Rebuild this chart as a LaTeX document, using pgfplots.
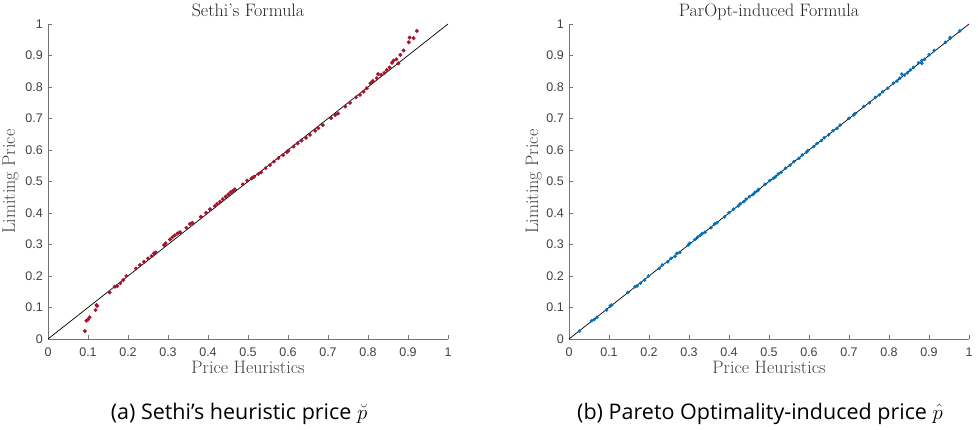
\documentclass[border=0pt]{standalone}
\usepackage{pgfplots}
\pgfplotsset{compat=1.18}
\usepackage{pgfplotstable}
\usepackage{fontspec}
\newfontfamily\arial{Liberation Sans}
\newfontfamily\capfont{Open Sans}
\definecolor{mred}{rgb}{0.635,0.078,0.184}
\definecolor{mblue}{rgb}{0,0.447,0.741}
\definecolor{axgray}{gray}{0.45}
\definecolor{txtgray}{gray}{0.25}
\pgfplotstableread{
s p y
0.092 0.026 0.025
0.096 0.057 0.058
0.100 0.063 0.062
0.104 0.070 0.069
0.119 0.094 0.092
0.123 0.103 0.105
0.121 0.107 0.108
0.154 0.147 0.148
0.167 0.165 0.166
0.173 0.170 0.168
0.181 0.179 0.177
0.188 0.189 0.187
0.196 0.199 0.200
0.220 0.226 0.224
0.230 0.233 0.235
0.240 0.247 0.245
0.250 0.255 0.256
0.259 0.265 0.263
0.265 0.270 0.272
0.270 0.277 0.275
0.290 0.298 0.298
0.294 0.302 0.304
0.305 0.315 0.316
0.311 0.321 0.323
0.317 0.328 0.329
0.324 0.333 0.335
0.330 0.340 0.339
0.346 0.355 0.353
0.355 0.364 0.365
0.361 0.370 0.369
0.382 0.389 0.388
0.395 0.400 0.401
0.405 0.411 0.412
0.417 0.423 0.422
0.423 0.428 0.429
0.430 0.437 0.436
0.437 0.443 0.444
0.444 0.451 0.452
0.451 0.460 0.459
0.457 0.465 0.466
0.463 0.472 0.471
0.467 0.474 0.475
0.487 0.490 0.491
0.498 0.502 0.503
0.509 0.511 0.510
0.515 0.516 0.515
0.526 0.523 0.524
0.533 0.530 0.529
0.544 0.541 0.542
0.555 0.553 0.552
0.565 0.562 0.563
0.576 0.575 0.574
0.588 0.583 0.584
0.597 0.594 0.593
0.601 0.597 0.598
0.614 0.612 0.611
0.624 0.620 0.621
0.634 0.631 0.630
0.645 0.638 0.639
0.655 0.649 0.648
0.668 0.660 0.661
0.676 0.670 0.669
0.687 0.678 0.679
0.708 0.700 0.701
0.718 0.712 0.711
0.725 0.715 0.716
0.743 0.737 0.738
0.755 0.751 0.750
0.770 0.766 0.767
0.780 0.776 0.775
0.789 0.784 0.785
0.797 0.797 0.796
0.806 0.811 0.812
0.812 0.820 0.819
0.822 0.827 0.828
0.825 0.832 0.841
0.833 0.839 0.838
0.841 0.846 0.845
0.847 0.853 0.854
0.854 0.861 0.862
0.860 0.874 0.877
0.864 0.882 0.884
0.871 0.889 0.888
0.876 0.882 0.875
0.881 0.900 0.902
0.889 0.913 0.916
0.902 0.941 0.942
0.904 0.953 0.957
0.914 0.953 0.955
0.922 0.977 0.978
}\datatab
\pgfplotsset{
  mystyle/.style={
    scale only axis, width=400pt, height=315pt,
    xmin=0, xmax=1, ymin=0, ymax=1,
    axis x line=bottom, axis y line=left,
    axis line style={-, draw=axgray, line width=0.8pt},
    tick align=inside, major tick length=4pt,
    tick style={draw=axgray, line width=0.8pt},
    xtick={0,0.1,0.2,0.3,0.4,0.5,0.6,0.7,0.8,0.9,1},
    ytick={0,0.1,0.2,0.3,0.4,0.5,0.6,0.7,0.8,0.9,1},
    xticklabels={0,0.1,0.2,0.3,0.4,0.5,0.6,0.7,0.8,0.9,1},
    yticklabels={0,0.1,0.2,0.3,0.4,0.5,0.6,0.7,0.8,0.9,1},
    ticklabel style={font=\arial\fontsize{12.5}{12.5}\selectfont, text=txtgray},
    xticklabel style={anchor=north, inner sep=0pt, yshift=-9pt},
    yticklabel style={anchor=east, inner sep=0pt, xshift=-5pt},
    label style={font=\fontsize{18}{18}\selectfont, text=txtgray},
    xlabel style={at={(axis description cs:0.5,-0.111)}, anchor=base},
    title style={font=\fontsize{18}{18}\selectfont, text=black!85, at={(axis description cs:0.5,1)}, anchor=base, yshift=1pt},
    xlabel={Price Heuristics}, ylabel={Limiting Price},
    clip=false,
  }
}
\begin{document}
\begin{tikzpicture}
\useasboundingbox (0,0) rectangle (978pt,429pt);
\begin{axis}[mystyle, at={(48pt,90pt)}, anchor=south west,
  title={Sethi's Formula},
  ylabel style={at={(axis description cs:-0.0825,0.5)}, anchor=base, rotate=0}]
\addplot[black, line width=0.7pt] coordinates {(0,0) (1,1)};
\addplot[only marks, mark=*, mark size=1.8pt, color=mred] table[x=s, y=y] {\datatab};
\end{axis}
\begin{axis}[mystyle, at={(569pt,90pt)}, anchor=south west,
  title={ParOpt-induced Formula},
  ylabel style={at={(axis description cs:-0.0775,0.5)}, anchor=base, rotate=0}]
\addplot[only marks, mark=*, mark size=1.6pt, color=mblue] table[x=p, y=y] {\datatab};
\addplot[black, line width=0.7pt] coordinates {(0,0) (1,1)};
\end{axis}
\node[anchor=base, font=\capfont\fontsize{21.5}{21.5}\selectfont] at (239pt,10pt) {(a) Sethi’s heuristic price \(\breve{p}\)};
\node[anchor=base, font=\capfont\fontsize{21.5}{21.5}\selectfont] at (760pt,10pt) {(b) Pareto Optimality-induced price \(\hat{p}\)};
\end{tikzpicture}
\end{document}
